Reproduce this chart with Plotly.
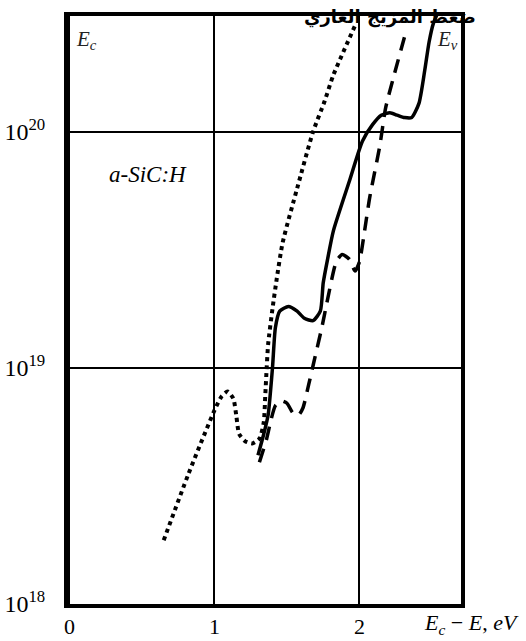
import numpy as np
import plotly.graph_objects as go

# ---- data (x = Ec - E in eV, y = log10 of density) ----
dot_x = [0.65, 0.82, 1.00, 1.05, 1.09, 1.13, 1.15, 1.17, 1.21, 1.26, 1.31, 1.34, 1.35, 1.36, 1.37, 1.40, 1.43, 1.47, 1.57, 1.68, 1.76, 1.82, 1.97]
dot_logy = [18.27, 18.55, 18.82, 18.88, 18.90, 18.87, 18.80, 18.72, 18.69, 18.68, 18.70, 18.77, 18.88, 19.00, 19.10, 19.25, 19.38, 19.53, 19.76, 20.00, 20.13, 20.24, 20.45]

sol_x = [1.30, 1.34, 1.37, 1.40, 1.42, 1.45, 1.51, 1.57, 1.62, 1.68, 1.73, 1.75, 1.78, 1.82, 1.93, 2.02, 2.09, 2.15, 2.21, 2.26, 2.31, 2.36, 2.41, 2.45, 2.48, 2.51, 2.56]
sol_logy = [18.63, 18.72, 18.80, 19.00, 19.17, 19.24, 19.26, 19.24, 19.21, 19.20, 19.24, 19.36, 19.46, 19.58, 19.79, 19.96, 20.03, 20.07, 20.08, 20.07, 20.06, 20.06, 20.12, 20.26, 20.38, 20.46, 20.53]

dash_x = [1.31, 1.36, 1.39, 1.42, 1.46, 1.50, 1.54, 1.58, 1.61, 1.65, 1.68, 1.74, 1.78, 1.84, 1.88, 1.93, 1.97, 2.00, 2.04, 2.07, 2.14, 2.18, 2.23, 2.31]
dash_logy = [18.60, 18.70, 18.78, 18.84, 18.86, 18.85, 18.81, 18.80, 18.83, 18.93, 19.01, 19.17, 19.29, 19.45, 19.48, 19.46, 19.41, 19.45, 19.60, 19.72, 19.94, 20.10, 20.22, 20.40]

x_ticks = [0, 1, 2]
x_ticktext = ["0", "1", "2"]
y_ticks = [1e18, 1e19, 1e20]
y_ticktext = ["10<sup>18</sup>", "10<sup>19</sup>", "10<sup>20</sup>"]

title_text = "ضغط المزيج الغازي"
x_title = "<i>E</i><sub><i>c</i></sub> − <i>E</i>, <i>eV</i>"
ec_label = "<i>E</i><sub><i>c</i></sub>"
ev_label = "<i>E</i><sub><i>v</i></sub>"
material = "<i>a-SiC:H</i>"

SERIF = "Liberation Serif"

fig = go.Figure()
fig.add_trace(go.Scatter(x=dot_x, y=[10 ** v for v in dot_logy], mode="lines",
                         line=dict(color="black", width=4, dash="4px,4px", shape="spline", smoothing=0.6),
                         showlegend=False, hoverinfo="skip"))
fig.add_trace(go.Scatter(x=dash_x, y=[10 ** v for v in dash_logy], mode="lines",
                         line=dict(color="black", width=3.5, dash="14px,9px", shape="spline", smoothing=0.6),
                         showlegend=False, hoverinfo="skip"))
fig.add_trace(go.Scatter(x=sol_x, y=[10 ** v for v in sol_logy], mode="lines",
                         line=dict(color="black", width=3.5, shape="spline", smoothing=0.6),
                         showlegend=False, hoverinfo="skip"))

fig.update_xaxes(range=[-0.01, 2.70], tickvals=x_ticks, ticktext=x_ticktext, automargin=False,
                 showgrid=True, gridcolor="black", gridwidth=2,
                 showline=True, linecolor="black", linewidth=4, mirror=True,
                 zeroline=False, ticks="", ticklabelstandoff=0,
                 tickfont=dict(family=SERIF, size=22, color="black"))
fig.update_yaxes(type="log", range=[18.0, 20.49], tickvals=y_ticks, ticktext=y_ticktext, automargin=False,
                 showgrid=True, gridcolor="black", gridwidth=2,
                 showline=True, linecolor="black", linewidth=4, mirror=True,
                 zeroline=False, ticks="", ticklabelstandoff=14,
                 tickfont=dict(family=SERIF, size=24, color="black"))

fig.add_annotation(x=0.12, y=20.39, xref="x", yref="y", text=ec_label, showarrow=False,
                   font=dict(family=SERIF, size=21, color="#222"))
fig.add_annotation(x=2.61, y=20.39, xref="x", yref="y", text=ev_label, showarrow=False,
                   font=dict(family=SERIF, size=21, color="#222"))
fig.add_annotation(x=0.54, y=19.82, xref="x", yref="y", text=material, showarrow=False,
                   font=dict(family=SERIF, size=23, color="black"))
fig.add_annotation(x=1.0435, y=0.998, xref="paper", yref="paper", xanchor="right", yanchor="middle",
                   text="<b>" + title_text + "</b>", showarrow=False,
                   font=dict(family="DejaVu Sans", size=18, color="black"))
fig.add_annotation(x=0.90, y=-0.034, xref="paper", yref="paper", xanchor="left", yanchor="middle",
                   text=x_title, showarrow=False,
                   font=dict(family=SERIF, size=22, color="black"))

fig.update_layout(width=526, height=641, margin=dict(l=68, r=65, t=16, b=37),
                  paper_bgcolor="white", plot_bgcolor="white", showlegend=False)

fig.write_html("out.html")
